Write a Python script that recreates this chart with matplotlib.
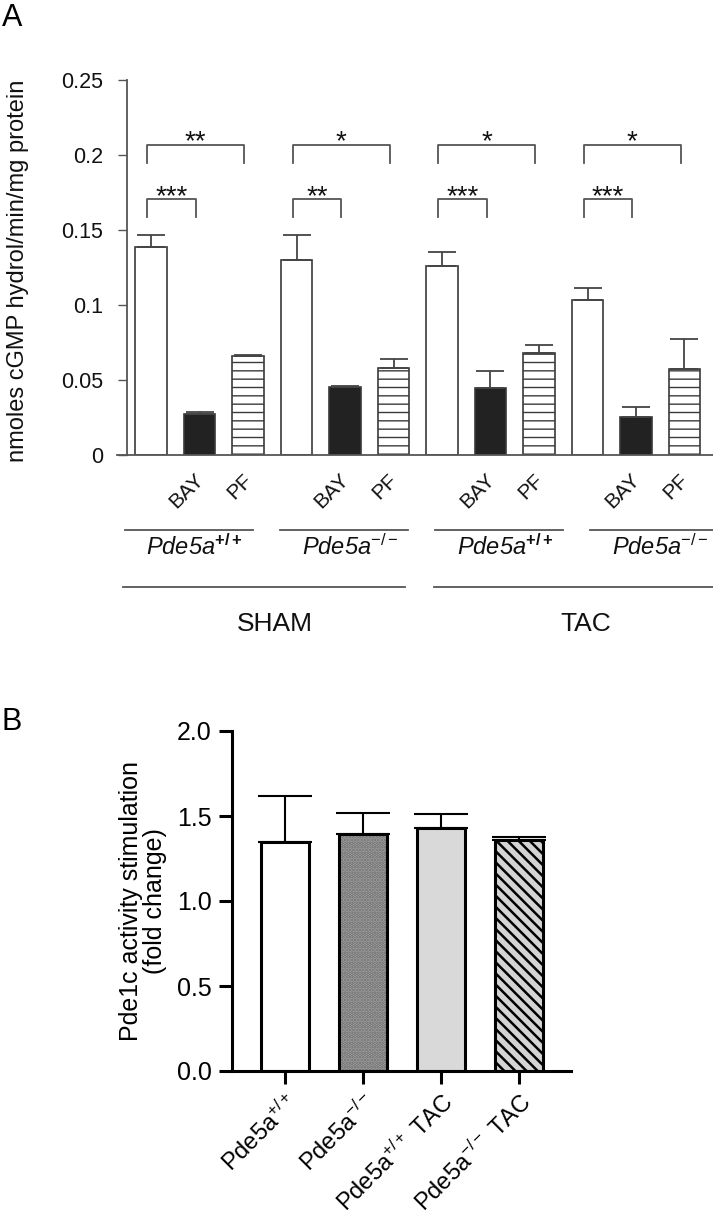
import numpy as np
import matplotlib.pyplot as plt

plt.rcParams['font.family'] = ['Liberation Sans', 'DejaVu Sans']
plt.rcParams['mathtext.fontset'] = 'custom'
plt.rcParams['mathtext.rm'] = 'Liberation Sans'
plt.rcParams['mathtext.it'] = 'Liberation Sans:italic'
plt.rcParams['mathtext.bf'] = 'Liberation Sans:bold'

# ---- panel A data ----
treatments = ['', 'BAY', 'PF']
genotypes_a = [r'Pde5a$^{\mathbf{+/+}}$', r'Pde5a$^{-/-}$',
               r'Pde5a$^{\mathbf{+/+}}$', r'Pde5a$^{-/-}$']
surgery = ['SHAM', 'TAC']
a_mean = [0.1385, 0.0276, 0.0660, 0.1302, 0.0451, 0.0578,
          0.1262, 0.0447, 0.0678, 0.1033, 0.0256, 0.0576]
a_err = [0.0084, 0.0011, 0.0009, 0.0162, 0.0007, 0.0060,
         0.0091, 0.0113, 0.0057, 0.0078, 0.0062, 0.0200]
sig_bay = ['***', '**', '***', '***']
sig_pf = ['**', '*', '*', '*']

# ---- panel B data ----
b_labels = [r'Pde5a$^{+/+}$', r'Pde5a$^{-/-}$', r'Pde5a$^{+/+}$ TAC', r'Pde5a$^{-/-}$ TAC']
b_mean = [1.350, 1.394, 1.427, 1.356]
b_err = [0.270, 0.126, 0.087, 0.018]

W, H = 713, 1227
fig = plt.figure(figsize=(W / 100, H / 100), dpi=100)

# ================= panel A =================
axa = fig.add_axes([117 / W, 1 - 455 / H, 596 / W, 375 / H])
x = np.arange(len(a_mean))
xmin = (117 - 151) / 48.5
axa.set_xlim(xmin, xmin + 596 / 48.5)
axa.set_ylim(0, 0.25)

plt.rcParams['hatch.linewidth'] = 1.0
face = ['white', '#222222', 'white']
hatch = ['', '', '--']
for i in x:
    axa.bar(i, a_mean[i], width=0.64, color=face[i % 3], edgecolor='#3a3a3a',
            linewidth=1.2, hatch=hatch[i % 3], zorder=2)
axa.errorbar(x, a_mean, yerr=[np.zeros(len(x)), a_err], fmt='none', ecolor='#444444',
             elinewidth=1.3, capsize=10, capthick=1.3, zorder=3)

for s in ['top', 'right']:
    axa.spines[s].set_visible(False)
axa.spines['left'].set_position(('axes', 10 / 596))
for s in ['left', 'bottom']:
    axa.spines[s].set_color('#555555')
    axa.spines[s].set_linewidth(1.3)
axa.set_xticks([])
axa.set_yticks([0, 0.05, 0.1, 0.15, 0.2, 0.25])
axa.set_yticklabels(['0', '0.05', '0.1', '0.15', '0.2', '0.25'])
axa.tick_params(axis='y', length=6.5, width=1, color='#555555', pad=10.5,
                labelsize=15.5, labelcolor='#111111')

# significance brackets
for g in range(4):
    w = 3 * g
    for j, lab, top in [(1, sig_bay[g], 0.1705), (2, sig_pf[g], 0.2070)]:
        x0, x1 = w - 0.08, w + j - 0.08
        axa.plot([x0, x0, x1, x1], [top - 0.012, top, top, top - 0.012],
                 color='#555555', lw=1.3, zorder=3)
        axa.text((x0 + x1) / 2, top + 0.0012, lab, ha='center', va='center',
                 fontsize=20, color='#111111')

# treatment labels
for i in x:
    if treatments[i % 3]:
        axa.text(i - 0.12, -0.010, treatments[i % 3], rotation=45, ha='right',
                 va='top', rotation_mode='anchor', fontsize=15, color='#111111')

# genotype lines and labels
for g in range(4):
    start = -0.54 + 3.2 * g
    axa.plot([start, start + 2.64], [-0.05, -0.05], color='#555555', lw=1.3, clip_on=False)
    axa.text(start + 1.32 + 0.12, -0.0613, genotypes_a[g], ha='center', va='center',
             fontsize=17, fontstyle='italic', color='#111111')

# surgery lines and labels
for k in range(2):
    start = -0.584 + 6.41 * k
    axa.plot([start, start + 5.82], [-0.088, -0.088], color='#555555', lw=1.3, clip_on=False)
    axa.text(start + 2.91 + 0.22, -0.1127, surgery[k], ha='center', va='center',
             fontsize=19, color='#111111')

fig.text(18 / W, 1 - 271 / H, 'nmoles cGMP hydrol/min/mg protein', rotation=90,
         ha='center', va='center', fontsize=17, color='#111111')
fig.text(2 / W, 1 - 3 / H, 'A', ha='left', va='top', fontsize=22)

# ================= panel B =================
axb = fig.add_axes([232 / W, 1 - 1071 / H, 339 / W, 340 / H])
xb = np.arange(len(b_mean))
axb.set_xlim((232 - 285) / 78, (571 - 285) / 78)
axb.set_ylim(0, 2.0)

plt.rcParams['hatch.linewidth'] = 1.8
bw = 0.615
axb.bar(xb[0], b_mean[0], width=bw, color='white', edgecolor='black', linewidth=2.2, zorder=2)
axb.bar(xb[1], b_mean[1], width=bw, color='#a8a8a8', edgecolor='#6a6a6a', linewidth=0,
        hatch='.....', zorder=2)
axb.bar(xb[1], b_mean[1], width=bw, fill=False, edgecolor='black', linewidth=2.2, zorder=2)
axb.bar(xb[2], b_mean[2], width=bw, color='#d9d9d9', edgecolor='black', linewidth=2.2, zorder=2)
axb.bar(xb[3], b_mean[3], width=bw, color='#d4d4d4', edgecolor='black', linewidth=2.2,
        hatch='\\\\\\', zorder=2)
axb.errorbar(xb, b_mean, yerr=[np.zeros(len(xb)), b_err], fmt='none', ecolor='black',
             elinewidth=1.5, capsize=19.4, capthick=1.5, zorder=3)

for s in ['top', 'right']:
    axb.spines[s].set_visible(False)
for s in ['left', 'bottom']:
    axb.spines[s].set_linewidth(2.2)
axb.set_yticks([0, 0.5, 1.0, 1.5, 2.0])
axb.set_yticklabels(['0.0', '0.5', '1.0', '1.5', '2.0'])
axb.set_xticks(xb)
axb.set_xticklabels(b_labels, rotation=45, ha='right', rotation_mode='anchor')
axb.tick_params(axis='both', length=9.5, width=2.2, labelsize=18, pad=5)
axb.tick_params(axis='x', labelsize=17, pad=4)

fig.text(143 / W, 1 - 901 / H, 'Pde1c activity stimulation\n(fold change)', rotation=90,
         ha='center', va='center', multialignment='center', fontsize=18, linespacing=1.05)
fig.text(2 / W, 1 - 722 / H, 'B', ha='left', va='center', fontsize=22)

fig.savefig('out.png', dpi=100)
